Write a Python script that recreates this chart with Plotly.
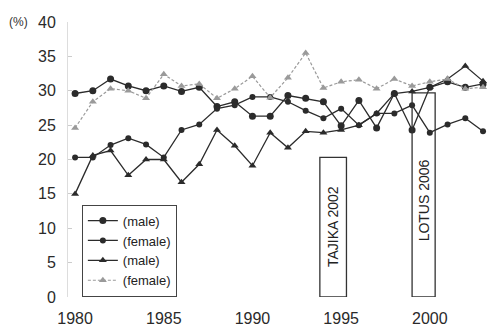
import plotly.graph_objects as go

years = list(range(1980, 2004))

# circles (male)
circle_male = [29.6, 30.0, 31.7, 30.7, 30.0, 30.7, 29.9, 30.5, 27.7, 28.4, 26.3, 26.3,
               29.3, 28.9, 28.4, 24.9, 28.6, 24.6, 29.6, 24.3, 30.5, 31.3, 30.5, 31.0]
# circles (female)
circle_female = [20.3, 20.3, 22.1, 23.1, 22.2, 20.3, 24.3, 25.1, 27.4, 27.9, 29.1, 29.1,
                 28.4, 27.1, 26.0, 27.4, 25.0, 26.7, 26.7, 27.9, 23.9, 25.1, 26.0, 24.1]
# triangles (male)
tri_male = [15.0, 20.6, 21.3, 17.7, 20.0, 20.0, 16.7, 19.3, 24.3, 22.0, 19.1, 23.9,
            21.7, 24.1, 23.9, 24.3, 25.0, 26.7, 29.6, 29.9, 30.5, 31.7, 33.6, 31.4]
# triangles (female)
tri_female = [24.6, 28.4, 30.3, 30.0, 28.9, 32.4, 30.7, 31.0, 28.9, 30.3, 32.1, 29.0,
              31.9, 35.5, 30.4, 31.3, 31.6, 30.3, 31.7, 30.7, 31.3, 31.7, 30.3, 30.5]

series_names = ["(male)", "(female)", "(male)", "(female)"]

x_ticks = [1980, 1985, 1990, 1995, 2000]
y_ticks = [0, 5, 10, 15, 20, 25, 30, 35, 40]

box_labels = ["TAJIKA 2002", "LOTUS 2006"]
box_x0 = [1993.8, 1999.0]
box_x1 = [1995.3, 2000.3]
box_top = [20.3, 29.7]
label_mid = [10.2, 14.0]

dark = "#2b2b2b"
grey = "#9a9a9a"
font = "Liberation Sans, Arial, sans-serif"

fig = go.Figure()
fig.add_trace(go.Scatter(x=years, y=circle_male, name=series_names[0], mode="lines+markers",
                         line=dict(color=dark, width=1.3), marker=dict(symbol="circle", size=7, color=dark)))
fig.add_trace(go.Scatter(x=years, y=circle_female, name=series_names[1], mode="lines+markers",
                         line=dict(color=dark, width=1.3), marker=dict(symbol="circle", size=6, color=dark)))
fig.add_trace(go.Scatter(x=years, y=tri_male, name=series_names[2], mode="lines+markers",
                         line=dict(color=dark, width=1.3), marker=dict(symbol="triangle-up", size=7, color=dark)))
fig.add_trace(go.Scatter(x=years, y=tri_female, name=series_names[3], mode="lines+markers",
                         line=dict(color=grey, width=1.2, dash="3px,2px"),
                         marker=dict(symbol="triangle-up", size=7, color=grey)))

for lab, x0, x1, top, mid in zip(box_labels, box_x0, box_x1, box_top, label_mid):
    fig.add_shape(type="rect", x0=x0, x1=x1, y0=0, y1=top, xref="x", yref="y",
                  line=dict(color="#333333", width=1.3), fillcolor="rgba(255,255,255,0)")
    fig.add_annotation(x=(x0 + x1) / 2, y=mid, text=lab, textangle=-90,
                       showarrow=False, font=dict(family=font, size=14, color="#222222"))

fig.add_annotation(x=-0.145, y=40, xref="paper", yref="y", text="(%)", showarrow=False,
                   xanchor="left", yanchor="middle", font=dict(family=font, size=12, color="#333333"))

fig.update_layout(
    width=491, height=330,
    margin=dict(l=68, r=3, t=22, b=28),
    paper_bgcolor="white", plot_bgcolor="white",
    font=dict(family=font, size=16, color="#2a2a2a"),
    legend=dict(x=0.033, y=0.336, xanchor="left", yanchor="top",
                bordercolor="#444444", borderwidth=1, bgcolor="white",
                font=dict(family=font, size=13, color="#222222"),
                tracegroupgap=0, itemwidth=30),
    showlegend=True,
)
fig.update_xaxes(range=[1979.6, 2003.28], tickvals=x_ticks, ticktext=[str(t) for t in x_ticks],
                 showgrid=False, zeroline=False, showline=False, ticks="", ticklabelstandoff=10)
fig.update_yaxes(range=[0, 40], tickvals=y_ticks, showgrid=False, zeroline=False,
                 showline=True, linecolor="#dddddd", linewidth=1,
                 ticks="inside", ticklen=4, tickcolor="#cccccc", ticklabelstandoff=8)

fig.write_html("out.html")
